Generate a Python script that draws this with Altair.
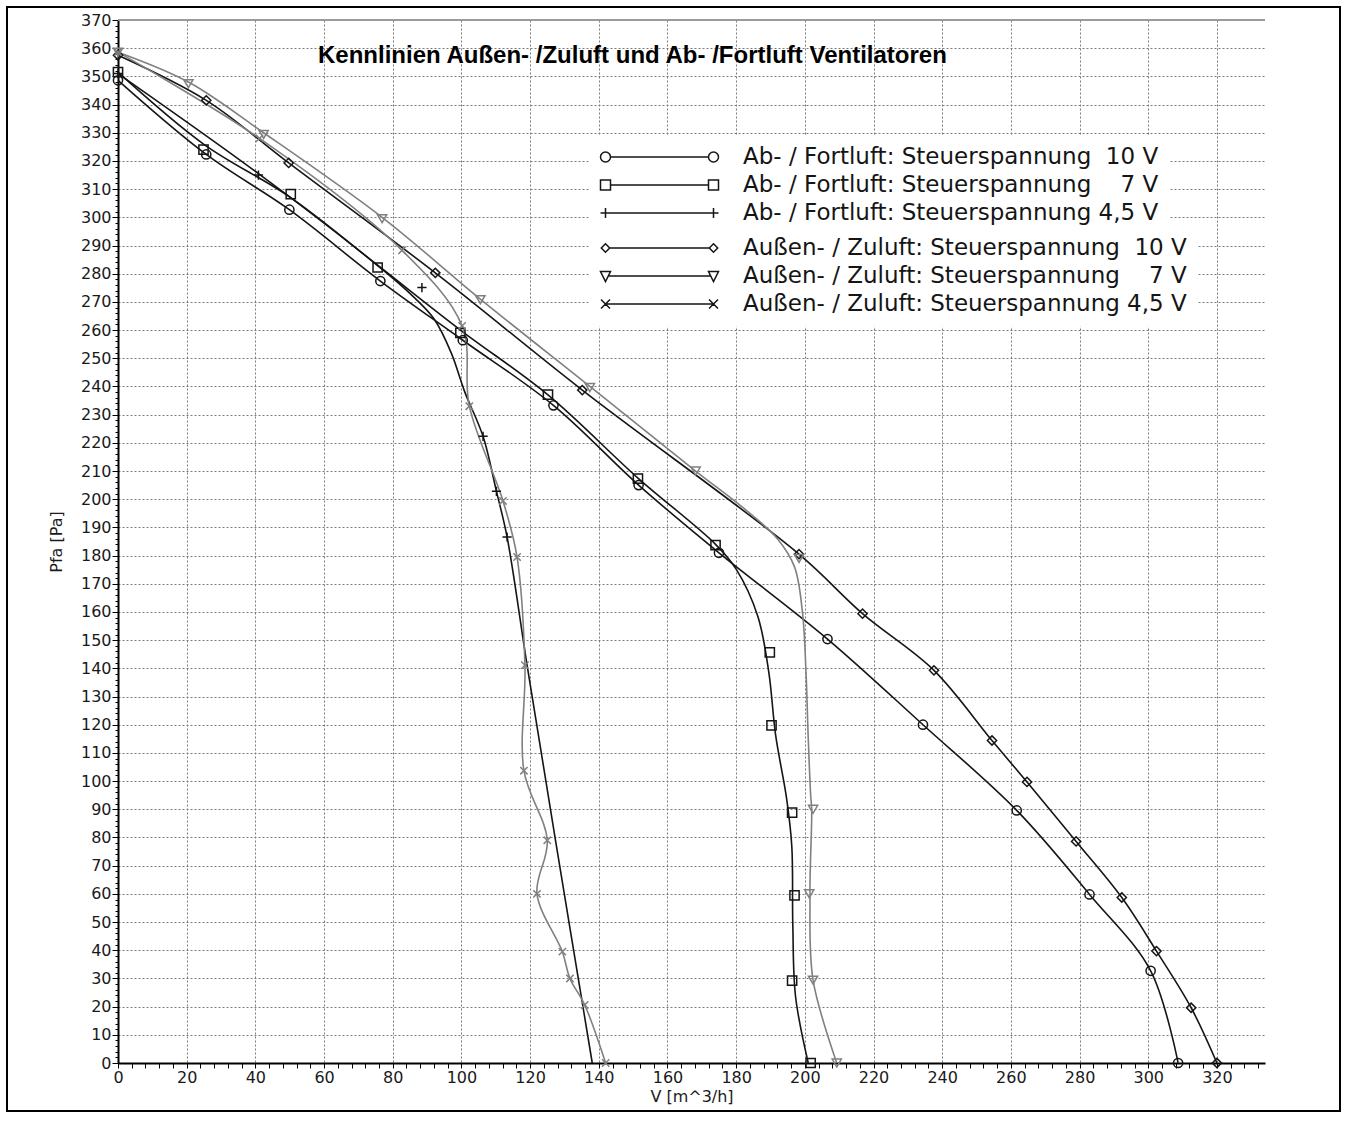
import altair as alt
import pandas as pd

# ---------------- data ----------------
SERIES = [
    "Ab- / Fortluft: Steuerspannung \u00a010 V",
    "Ab- / Fortluft: Steuerspannung \u00a0\u00a0\u00a07 V",
    "Ab- / Fortluft: Steuerspannung 4,5 V",
    "Außen- / Zuluft: Steuerspannung \u00a010 V",
    "Außen- / Zuluft: Steuerspannung \u00a0\u00a0\u00a07 V",
    "Außen- / Zuluft: Steuerspannung 4,5 V",
]

# Ab- / Fortluft 10 V (circles)
ab10_line_x = [0, 25.7, 49.9, 76.4, 100.4, 126.8, 151.6, 175.0, 206.6, 234.4, 261.7, 282.9, 300.7, 308.7]
ab10_line_y = [348.6, 322.3, 302.7, 277.4, 256.4, 233.3, 205.0, 181.0, 150.4, 120.0, 89.6, 59.8, 32.7, 0]
ab10_mark_x = [0, 25.7, 49.9, 76.4, 100.4, 126.8, 151.6, 175.0, 206.6, 234.4, 261.7, 282.9, 300.7, 308.7]
ab10_mark_y = [348.6, 322.3, 302.7, 277.4, 256.4, 233.3, 205.0, 181.0, 150.4, 120.0, 89.6, 59.8, 32.7, 0]

# Ab- / Fortluft 7 V (squares)
ab7_line_x = [0, 24.9, 50.3, 75.6, 99.7, 125.2, 151.4, 174.0, 180.0, 186.3, 189.5, 191.5, 194.7, 196.2, 196.5, 197.3, 201.0]
ab7_line_y = [351.5, 326.0, 307.0, 283.0, 260.0, 237.0, 207.5, 184.0, 175.2, 158.5, 138.7, 116.3, 93.8, 77.0, 49.0, 23.6, 0]
ab7_mark_x = [0, 24.9, 50.3, 75.6, 99.7, 125.2, 151.4, 174.0, 189.8, 190.3, 196.3, 197.0, 196.3, 201.7]
ab7_mark_y = [351.5, 324.0, 308.2, 282.2, 259.0, 237.1, 207.3, 183.7, 145.7, 119.8, 88.8, 59.5, 29.2, 0]

# Ab- / Fortluft 4,5 V (plus)
ab45_line_x = [0, 40.9, 75.0, 85.0, 92.0, 97.0, 101.0, 106.3, 110.2, 113.3, 119.2, 127.4, 138.1]
ab45_line_y = [351.0, 315.5, 283.5, 273.0, 264.0, 252.0, 238.0, 222.3, 202.8, 186.6, 140.5, 79.0, 0]
ab45_mark_x = [0, 40.9, 88.5, 106.3, 110.2, 113.3]
ab45_mark_y = [351.0, 315.0, 275.1, 222.3, 202.8, 186.6]

# Außen- / Zuluft 10 V (diamonds)
au10_line_x = [0, 25.7, 49.7, 92.4, 135.2, 198.3, 216.8, 237.6, 254.5, 264.7, 279.0, 292.3, 302.4, 312.5, 320.0]
au10_line_y = [357.5, 341.5, 319.3, 280.3, 238.7, 180.5, 159.4, 139.3, 114.4, 99.7, 78.6, 58.7, 39.7, 19.6, 0]
au10_mark_x = [0, 25.7, 49.7, 92.4, 135.2, 198.3, 216.8, 237.6, 254.5, 264.7, 279.0, 292.3, 302.4, 312.5, 320.0]
au10_mark_y = [357.5, 341.5, 319.3, 280.3, 238.7, 180.5, 159.4, 139.3, 114.4, 99.7, 78.6, 58.7, 39.7, 19.6, 0]

# Außen- / Zuluft 7 V (triangles)
au7_line_x = [0, 20.5, 42.4, 76.9, 105.5, 137.4, 168.2, 182.0, 192.0, 197.0, 199.3, 200.3, 201.0, 201.7, 202.0, 201.5, 202.4, 209.3]
au7_line_y = [358.6, 348.0, 330.0, 300.0, 271.0, 240.0, 210.0, 197.0, 186.0, 176.0, 160.0, 140.0, 115.0, 95.0, 90.0, 60.0, 29.4, 0]
au7_mark_x = [0, 20.5, 42.4, 76.9, 105.5, 137.4, 168.2, 198.3, 202.4, 201.3, 202.4, 209.3]
au7_mark_y = [358.6, 347.4, 329.4, 299.5, 270.8, 239.6, 210.0, 179.0, 90.0, 60.0, 29.4, 0]

# Außen- / Zuluft 4,5 V (x)
au45_line_x = [0, 41.2, 82.7, 100.2, 102.3, 112.1, 116.2, 118.5, 118.2, 125.0, 122.0, 129.4, 131.6, 135.9, 142.0]
au45_line_y = [358.6, 328.0, 288.3, 261.5, 233.0, 199.4, 179.5, 141.1, 103.7, 79.0, 60.0, 39.5, 30.0, 20.6, 0]
au45_mark_x = [0, 41.2, 82.7, 100.2, 102.3, 112.1, 116.2, 118.5, 118.2, 125.0, 122.0, 129.4, 131.6, 135.9, 142.0]
au45_mark_y = [358.6, 328.0, 288.3, 261.5, 233.0, 199.4, 179.5, 141.1, 103.7, 79.0, 60.0, 39.5, 30.0, 20.6, 0]

TITLE = "Kennlinien Außen- /Zuluft und Ab- /Fortluft Ventilatoren"
X_TITLE = "V [m^3/h]"
Y_TITLE = "Pfa [Pa]"

# ---------------- tables ----------------
def table(name, xs, ys):
    return pd.DataFrame({"series": name, "x": xs, "y": ys, "i": list(range(len(xs)))})

lines_df = pd.concat([
    table(SERIES[0], ab10_line_x, ab10_line_y),
    table(SERIES[1], ab7_line_x, ab7_line_y),
    table(SERIES[2], ab45_line_x, ab45_line_y),
    table(SERIES[3], au10_line_x, au10_line_y),
    table(SERIES[4], au7_line_x, au7_line_y),
    table(SERIES[5], au45_line_x, au45_line_y),
], ignore_index=True)

marks_df = pd.concat([
    table(SERIES[0], ab10_mark_x, ab10_mark_y),
    table(SERIES[1], ab7_mark_x, ab7_mark_y),
    table(SERIES[2], ab45_mark_x, ab45_mark_y),
    table(SERIES[3], au10_mark_x, au10_mark_y),
    table(SERIES[4], au7_mark_x, au7_mark_y),
    table(SERIES[5], au45_mark_x, au45_mark_y),
], ignore_index=True)

legA_df = pd.DataFrame({"series": SERIES[:3]})
legB_df = pd.DataFrame({"series": SERIES[3:]})

# ---------------- styles ----------------
W, H = 1147, 1043
XMAX = 334
DARK = "#151515"
GREY = "#808080"
COLORS = [DARK, DARK, DARK, DARK, GREY, GREY]
SHAPES = ["circle", "square", "M-1,0L1,0M0,-1L0,1", "diamond", "triangle-down",
          "M-0.8,-0.8L0.8,0.8M-0.8,0.8L0.8,-0.8"]

# legend symbols: line with a marker at both ends (units scaled by sqrt(size)/2)
L, R, r = -0.6, 10.2, 0.5

def p(v):
    return f"{v:.3f}"

def leg_circle():
    return (f"M{p(L-r)},0A{r},{r} 0 1,0 {p(L+r)},0A{r},{r} 0 1,0 {p(L-r)},0Z"
            f"M{p(L+r)},0L{p(R-r)},0"
            f"M{p(R-r)},0A{r},{r} 0 1,0 {p(R+r)},0A{r},{r} 0 1,0 {p(R-r)},0Z")

def leg_square():
    return (f"M{p(L-r)},{p(-r)}H{p(L+r)}V{p(r)}H{p(L-r)}Z"
            f"M{p(L+r)},0L{p(R-r)},0"
            f"M{p(R-r)},{p(-r)}H{p(R+r)}V{p(r)}H{p(R-r)}Z")

def leg_plus():
    return (f"M{p(L-r)},0L{p(R+r)},0"
            f"M{p(L)},{p(-r)}L{p(L)},{p(r)}M{p(R)},{p(-r)}L{p(R)},{p(r)}")

def leg_diamond():
    d = 0.42
    return (f"M{p(L-d)},0L{p(L)},{p(-d)}L{p(L+d)},0L{p(L)},{p(d)}Z"
            f"M{p(L+d)},0L{p(R-d)},0"
            f"M{p(R-d)},0L{p(R)},{p(-d)}L{p(R+d)},0L{p(R)},{p(d)}Z")

def leg_tri():
    t, b = -0.45, 0.55
    return (f"M{p(L-r)},{p(t)}L{p(L+r)},{p(t)}L{p(L)},{p(b)}Z"
            f"M{p(L+0.28)},0L{p(R-0.28)},0"
            f"M{p(R-r)},{p(t)}L{p(R+r)},{p(t)}L{p(R)},{p(b)}Z")

def leg_x():
    q = 0.45
    return (f"M{p(L-q)},{p(-q)}L{p(L+q)},{p(q)}M{p(L-q)},{p(q)}L{p(L+q)},{p(-q)}"
            f"M{p(L)},0L{p(R)},0"
            f"M{p(R-q)},{p(-q)}L{p(R+q)},{p(q)}M{p(R-q)},{p(q)}L{p(R+q)},{p(-q)}")

LEG_A = [leg_circle(), leg_square(), leg_plus()]
LEG_B = [leg_diamond(), leg_tri(), leg_x()]

FONT = "DejaVu Sans"

x_axis = alt.Axis(
    values=list(range(0, 333, 4)),
    labelExpr="datum.value % 20 === 0 ? datum.label : ''",
    labelOverlap=False, labelFlush=False, labelBound=False,
    grid=True,
    gridOpacity={"condition": {"test": "datum.value % 20 === 0", "value": 1}, "value": 0},
    gridDash=[2, 2], gridColor="#7a7a7a", gridWidth=1,
    domainColor="black", domainWidth=2,
    tickColor="black", tickSize=5, tickWidth=1,
    labelFont=FONT, labelFontSize=16, labelColor="#1a1a1a", labelPadding=1, labelAngle=0,
    titleFont=FONT, titleFontSize=16, titleFontWeight="normal", titleColor="#1a1a1a",
    titleY=33, titleBaseline="middle",
)

y_axis = alt.Axis(
    values=list(range(0, 371, 2)),
    labelExpr="datum.value % 10 === 0 ? datum.label : ''",
    labelOverlap=False, labelFlush=False, labelBound=False,
    grid=True,
    gridOpacity={"condition": {"test": "datum.value % 10 === 0", "value": 1}, "value": 0},
    gridDash=[2, 2], gridColor="#7a7a7a", gridWidth=1,
    domainColor="black", domainWidth=2,
    tickColor="black",
    tickSize={"condition": {"test": "datum.value % 10 === 0", "value": 6}, "value": 3},
    tickWidth=1,
    labelFont=FONT, labelFontSize=16, labelColor="#1a1a1a", labelPadding=1,
    titleFont=FONT, titleFontSize=16, titleFontWeight="normal", titleColor="#1a1a1a",
    titleX=-62, titleY=H / 2, titleBaseline="middle", titleAlign="center",
)

X = alt.X("x:Q", scale=alt.Scale(domain=[0, XMAX], nice=False, zero=False), axis=x_axis, title=X_TITLE)
Y = alt.Y("y:Q", scale=alt.Scale(domain=[0, 370], nice=False, zero=False), axis=y_axis, title=Y_TITLE)
COLOR = alt.Color("series:N", scale=alt.Scale(domain=SERIES, range=COLORS), legend=None)

lines = alt.Chart(lines_df).mark_line(interpolate="catmull-rom", strokeWidth=1.6).encode(
    x=X, y=Y, color=COLOR, order="i:Q"
)

points = alt.Chart(marks_df).mark_point(filled=False, size=85, strokeWidth=1.5, opacity=1).encode(
    x=X, y=Y, color=COLOR,
    shape=alt.Shape("series:N", scale=alt.Scale(domain=SERIES, range=SHAPES), legend=None),
)

def legend_params(ly, pad_labels):
    kw = dict(
        orient="none", legendX=472, legendY=ly, title=None,
        labelFont=FONT, labelFontSize=23, labelColor="#151515", labelLimit=900,
        labelOffset=120,
        symbolSize=400, symbolStrokeWidth=1.5, symbolStrokeColor="#151515",
        symbolFillColor="white", symbolOpacity=1,
        rowPadding=4, padding=10, fillColor="white",
    )
    if pad_labels:
        kw["labelExpr"] = "datum.label + '\u00a0\u00a0\u00a0\u00a0'"
    return alt.Legend(**kw)

legA = alt.Chart(legA_df).mark_point(opacity=0, filled=False, color="black").encode(
    shape=alt.Shape("series:N", scale=alt.Scale(domain=SERIES[:3], range=LEG_A),
                    legend=legend_params(115.5, True))
)
legB = alt.Chart(legB_df).mark_point(opacity=0, filled=False, color="black").encode(
    shape=alt.Shape("series:N", scale=alt.Scale(domain=SERIES[3:], range=LEG_B),
                    legend=legend_params(206.5, False))
)

one = pd.DataFrame({"k": [0]})
top_line = alt.Chart(one).mark_rule(color="#9a9a9a", strokeWidth=2).encode(
    x=alt.value(0), x2=alt.value(W), y=alt.value(0)
)
frame = alt.Chart(one).mark_rect(fillOpacity=0, stroke="black", strokeWidth=2).encode(
    x=alt.value(-111), x2=alt.value(1222), y=alt.value(-13), y2=alt.value(1091)
)

chart = alt.layer(top_line, lines, points, legA, legB, frame).resolve_scale(
    shape="independent"
).properties(
    width=W, height=H,
    autosize=alt.AutoSizeParams(type="none"),
    padding={"left": 118, "top": 20, "right": 80, "bottom": 59},
    title=alt.TitleParams(
        text=TITLE, font="Liberation Sans", fontSize=24, fontWeight="bold", color="black",
        anchor="start", orient="top", frame="group", dx=200, dy=81, offset=0,
        baseline="alphabetic",
    ),
).configure(
    background="white",
).configure_view(
    strokeWidth=0,
)

chart.save("out.html", embed_options={"renderer": "svg", "actions": False})
